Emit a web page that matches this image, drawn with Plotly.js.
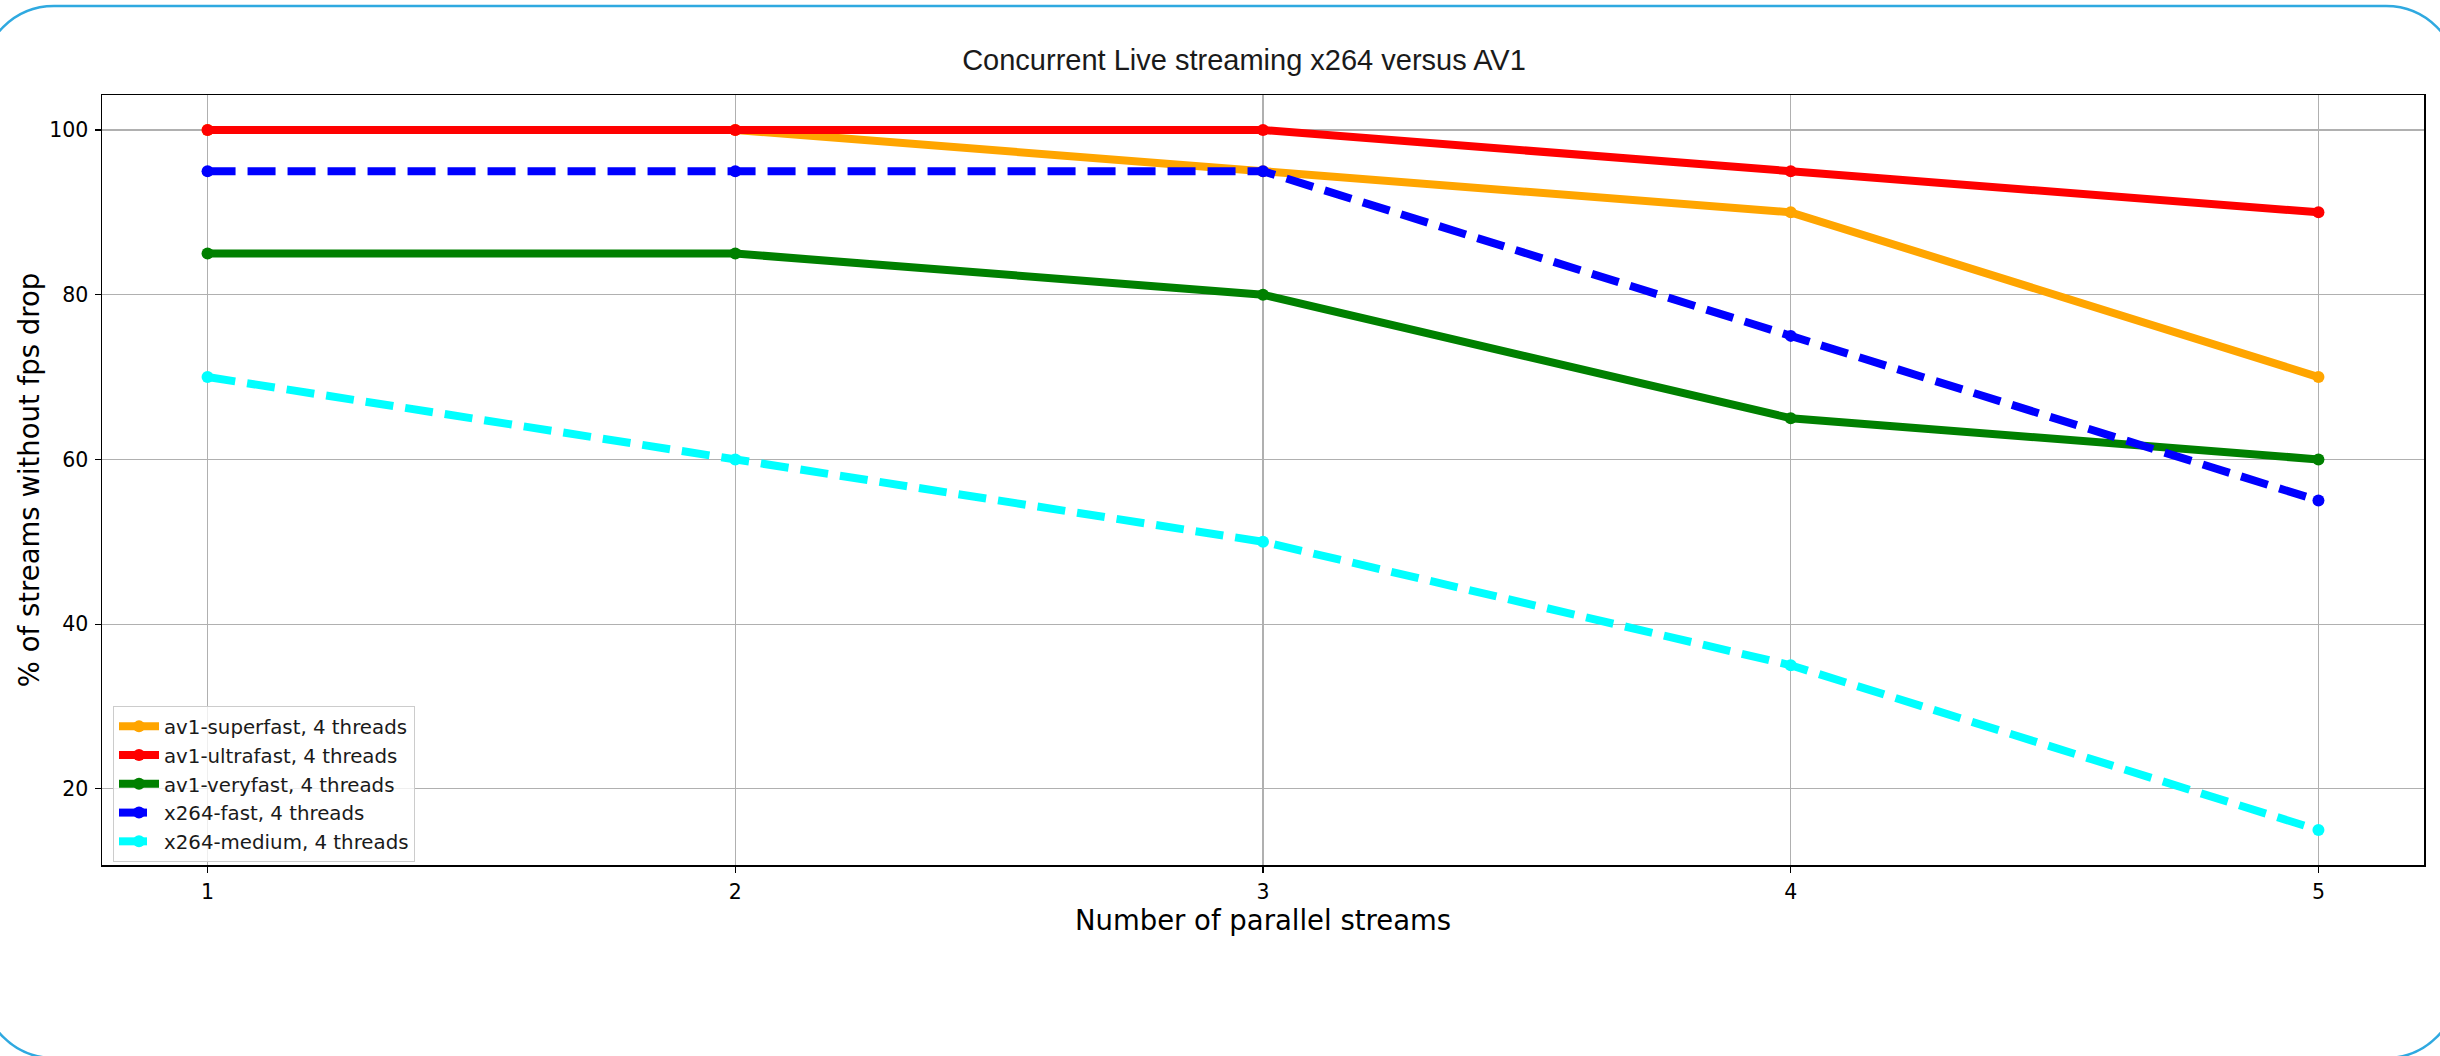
<!DOCTYPE html>
<html>
<head>
<meta charset="utf-8">
<script src="https://cdn.plot.ly/plotly-3.0.1.min.js"></script>
<style>
  html, body { margin: 0; padding: 0; background: #ffffff; overflow: hidden; }
  #chart { width: 2440px; height: 1056px; }
</style>
</head>
<body>
<div id="chart"></div>
<script>
// ---- Data ----
const streams = [1, 2, 3, 4, 5];
const seriesNames = [
  "av1-superfast, 4 threads",
  "av1-ultrafast, 4 threads",
  "av1-veryfast, 4 threads",
  "x264-fast, 4 threads",
  "x264-medium, 4 threads"
];
const av1Superfast = [100, 100, 95, 90, 70];
const av1Ultrafast = [100, 100, 100, 95, 90];
const av1Veryfast  = [85, 85, 80, 65, 60];
const x264Fast     = [95, 95, 95, 75, 55];
const x264Medium   = [70, 60, 50, 35, 15];
const xTickVals = [1, 2, 3, 4, 5];
const xTickText = ["1", "2", "3", "4", "5"];
const yTickVals = [20, 40, 60, 80, 100];
const yTickText = ["20", "40", "60", "80", "100"];

// ---- Styles ----
const seriesValues = [av1Superfast, av1Ultrafast, av1Veryfast, x264Fast, x264Medium];
const colors = ["#FFA500", "#FF0000", "#008000", "#0000FF", "#00FFFF"];
const dashes = ["solid", "solid", "solid", "28px,12px", "28px,12px"];

const W = 2440, H = 1056;
const M = { l: 102, r: 16, t: 95, b: 191 };
const PW = W - M.l - M.r, PH = H - M.t - M.b;

const traces = seriesValues.map((vals, i) => ({
  type: "scatter",
  mode: "lines+markers",
  name: seriesNames[i],
  x: streams,
  y: vals,
  line: { color: colors[i], width: 8, dash: dashes[i] },
  marker: { color: colors[i], size: 12 }
}));

// rounded decorative frame (pixel -> paper coords)
function X(px) { return (px - M.l) / PW; }
function Y(py) { return (H - M.b - py) / PH; }
function roundRect(x0, y0, x1, y1, r) {
  const k = 0.5523 * r;
  const p = [];
  p.push(`M${X(x0 + r)},${Y(y0)}`);
  p.push(`L${X(x1 - r)},${Y(y0)}`);
  p.push(`C${X(x1 - r + k)},${Y(y0)} ${X(x1)},${Y(y0 + r - k)} ${X(x1)},${Y(y0 + r)}`);
  p.push(`L${X(x1)},${Y(y1 - r)}`);
  p.push(`C${X(x1)},${Y(y1 - r + k)} ${X(x1 - r + k)},${Y(y1)} ${X(x1 - r)},${Y(y1)}`);
  p.push(`L${X(x0 + r)},${Y(y1)}`);
  p.push(`C${X(x0 + r - k)},${Y(y1)} ${X(x0)},${Y(y1 - r + k)} ${X(x0)},${Y(y1 - r)}`);
  p.push(`L${X(x0)},${Y(y0 + r)}`);
  p.push(`C${X(x0)},${Y(y0 + r - k)} ${X(x0 + r - k)},${Y(y0)} ${X(x0 + r)},${Y(y0)}`);
  p.push("Z");
  return p.join(" ");
}

const tickFont = { family: "DejaVu Sans, sans-serif", size: 20.5, color: "#000000" };
const axisTitleFont = { family: "DejaVu Sans, sans-serif", size: 27.5, color: "#000000" };

const layout = {
  width: W,
  height: H,
  margin: M,
  paper_bgcolor: "#ffffff",
  plot_bgcolor: "#ffffff",
  showlegend: true,
  title: {
    text: "Concurrent Live streaming x264 versus AV1",
    font: { family: "Liberation Sans, Arial, sans-serif", size: 29, color: "#1a1a1a" },
    x: 1244 / W, xref: "container", xanchor: "center",
    y: 1 - 60 / H, yref: "container", yanchor: "middle"
  },
  xaxis: {
    range: [0.8, 5.2],
    tickmode: "array",
    tickvals: xTickVals,
    ticktext: xTickText,
    ticks: "outside", ticklen: 6, tickwidth: 1.2, tickcolor: "#000000",
    ticklabelstandoff: 2,
    showgrid: true, gridcolor: "#b0b0b0", gridwidth: 1.2,
    zeroline: false,
    showline: true, linecolor: "#000000", linewidth: 1.5, mirror: true,
    tickfont: tickFont,
    automargin: true,
    title: { text: "Number of parallel streams", font: axisTitleFont, standoff: 6 }
  },
  yaxis: {
    range: [10.75, 104.25],
    tickmode: "array",
    tickvals: yTickVals,
    ticktext: yTickText,
    ticks: "outside", ticklen: 6, tickwidth: 1.2, tickcolor: "#000000",
    ticklabelstandoff: 2,
    showgrid: true, gridcolor: "#b0b0b0", gridwidth: 1.2,
    zeroline: false,
    showline: true, linecolor: "#000000", linewidth: 1.5, mirror: true,
    tickfont: tickFont,
    title: { text: "% of streams without fps drop", font: axisTitleFont, standoff: 1 }
  },
  legend: {
    x: X(113), y: Y(706), xanchor: "left", yanchor: "top",
    bgcolor: "rgba(255,255,255,0.8)",
    bordercolor: "#cccccc", borderwidth: 1,
    font: { family: "DejaVu Sans, sans-serif", size: 19.8, color: "#1a1a1a" },
    itemwidth: 40,
    traceorder: "normal"
  },
  shapes: [{
    type: "path",
    xref: "paper", yref: "paper",
    path: roundRect(-18, 6, 2458, 1058, 72),
    line: { color: "#2fa9e0", width: 2.5 },
    fillcolor: "rgba(0,0,0,0)",
    layer: "above"
  }]
};

Plotly.newPlot("chart", traces, layout, { displayModeBar: false, staticPlot: true });
</script>
</body>
</html>
